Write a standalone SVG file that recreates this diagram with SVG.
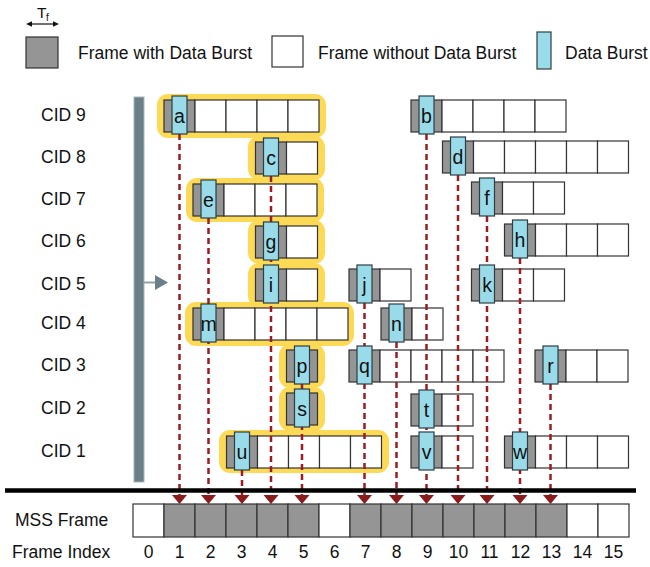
<svg xmlns="http://www.w3.org/2000/svg" width="650" height="567" viewBox="0 0 650 567">
  <defs>
    <style>
      .gray { fill: #959595; stroke: #333; stroke-width: 1.2; }
      .white { fill: #fff; stroke: #333; stroke-width: 1.2; }
      .burst { fill: #9ADBEA; stroke: #2E3E43; stroke-width: 1.2; }
      .hl { fill: #FCDA56; }
      .txt { font-family: "Liberation Sans", Arial, sans-serif; font-size: 17.5px; fill: #111; }
      .bl { font-family: "Liberation Sans", Arial, sans-serif; font-size: 19.5px; fill: #111; text-anchor: middle; }
      .idx { text-anchor: middle; }
      .conn { stroke: #9B1C22; stroke-width: 2.5; stroke-dasharray: 6 4; fill: none; marker-end: url(#head); }
    </style>
    <marker id="head" markerUnits="userSpaceOnUse" markerWidth="12" markerHeight="18" refX="0" refY="7.5" orient="auto" viewBox="0 0 12 15">
      <path d="M0,0 L9,7.5 L0,15 Z" fill="#8B1A1A"/>
    </marker>
  </defs>

  <!-- legend -->
  <g id="legend">
    <text class="txt" x="37" y="18" style="font-size:15.5px">T</text>
    <text class="txt" x="46" y="21" style="font-size:10px">f</text>
    <line x1="30" y1="24" x2="55" y2="24" stroke="#111" stroke-width="1.2"/>
    <polygon points="26,24 32,21.3 32,26.7" fill="#111"/>
    <polygon points="59,24 53,21.3 53,26.7" fill="#111"/>
    <rect class="gray" x="26" y="37" width="32" height="31"/>
    <text class="txt" x="78" y="59">Frame with Data Burst</text>
    <rect class="white" x="272" y="36" width="31" height="31"/>
    <text class="txt" x="318" y="59">Frame without Data Burst</text>
    <rect class="burst" x="537" y="32" width="14" height="37"/>
    <text class="txt" x="565" y="59">Data Burst</text>
  </g>

  <!-- connection labels -->
  <g id="cid-labels" class="txt">
    <text x="41" y="121">CID 9</text>
    <text x="41" y="163">CID 8</text>
    <text x="41" y="205">CID 7</text>
    <text x="41" y="247">CID 6</text>
    <text x="41" y="290">CID 5</text>
    <text x="41" y="329">CID 4</text>
    <text x="41" y="371">CID 3</text>
    <text x="41" y="414">CID 2</text>
    <text x="41" y="457">CID 1</text>
  </g>

  <!-- scheduler bar with pointer -->
  <g id="scheduler">
    <rect x="134" y="97" width="10" height="385" fill="#6A7F87" stroke="#A8B6BA" stroke-width="1"/>
    <line x1="144" y1="282.5" x2="156" y2="282.5" stroke="#8FA2A8" stroke-width="2"/>
    <polygon points="155,275 155,290 168,282.5" fill="#6A7F87"/>
  </g>

  <!-- highlighted scheduling window -->
  <g id="window" class="hl">
    <rect x="157" y="94" width="169" height="44" rx="11"/>
    <rect x="248" y="136" width="77" height="44" rx="11"/>
    <rect x="186" y="178" width="138" height="44" rx="11"/>
    <rect x="248" y="220" width="77" height="44" rx="11"/>
    <rect x="248" y="263" width="77" height="44" rx="11"/>
    <rect x="185" y="302" width="169" height="44" rx="11"/>
    <rect x="279" y="344" width="46" height="44" rx="11"/>
    <rect x="279" y="387" width="46" height="44" rx="11"/>
    <rect x="219" y="430" width="170" height="43" rx="11"/>
  </g>

  <!-- frame runs per connection -->
  <g id="frames">
    <g id="run-a"><rect class="gray" x="164" y="100" width="31" height="32"/><rect class="white" x="195" y="100" width="31" height="32"/><rect class="white" x="226" y="100" width="31" height="32"/><rect class="white" x="257" y="100" width="31" height="32"/><rect class="white" x="288" y="100" width="31" height="32"/></g>
    <g id="run-b"><rect class="gray" x="411" y="100" width="31" height="32"/><rect class="white" x="442" y="100" width="31" height="32"/><rect class="white" x="473" y="100" width="31" height="32"/><rect class="white" x="504" y="100" width="31" height="32"/><rect class="white" x="535" y="100" width="31" height="32"/></g>
    <g id="run-c"><rect class="gray" x="255.5" y="142" width="31" height="32"/><rect class="white" x="286.5" y="142" width="31" height="32"/></g>
    <g id="run-d"><rect class="gray" x="442.5" y="141" width="31" height="32"/><rect class="white" x="473.5" y="141" width="31" height="32"/><rect class="white" x="504.5" y="141" width="31" height="32"/><rect class="white" x="535.5" y="141" width="31" height="32"/><rect class="white" x="566.5" y="141" width="31" height="32"/><rect class="white" x="597.5" y="141" width="31" height="32"/></g>
    <g id="run-e"><rect class="gray" x="193" y="184" width="31" height="32"/><rect class="white" x="224" y="184" width="31" height="32"/><rect class="white" x="255" y="184" width="31" height="32"/><rect class="white" x="286" y="184" width="31" height="32"/></g>
    <g id="run-f"><rect class="gray" x="471.5" y="182" width="31" height="32"/><rect class="white" x="502.5" y="182" width="31" height="32"/><rect class="white" x="533.5" y="182" width="31" height="32"/></g>
    <g id="run-g"><rect class="gray" x="255.5" y="226" width="31" height="32"/><rect class="white" x="286.5" y="226" width="31" height="32"/></g>
    <g id="run-h"><rect class="gray" x="504.5" y="224" width="31" height="32"/><rect class="white" x="535.5" y="224" width="31" height="32"/><rect class="white" x="566.5" y="224" width="31" height="32"/><rect class="white" x="597.5" y="224" width="31" height="32"/></g>
    <g id="run-i"><rect class="gray" x="255.5" y="269" width="31" height="32"/><rect class="white" x="286.5" y="269" width="31" height="32"/></g>
    <g id="run-j"><rect class="gray" x="349" y="269" width="31" height="32"/><rect class="white" x="380" y="269" width="31" height="32"/></g>
    <g id="run-k"><rect class="gray" x="471.5" y="269" width="31" height="32"/><rect class="white" x="502.5" y="269" width="31" height="32"/><rect class="white" x="533.5" y="269" width="31" height="32"/></g>
    <g id="run-m"><rect class="gray" x="193" y="308" width="31" height="32"/><rect class="white" x="224" y="308" width="31" height="32"/><rect class="white" x="255" y="308" width="31" height="32"/><rect class="white" x="286" y="308" width="31" height="32"/><rect class="white" x="317" y="308" width="31" height="32"/></g>
    <g id="run-n"><rect class="gray" x="381" y="308" width="31" height="32"/><rect class="white" x="412" y="308" width="31" height="32"/></g>
    <g id="run-p"><rect class="gray" x="286.5" y="350" width="31" height="32"/></g>
    <g id="run-q"><rect class="gray" x="349" y="350" width="31" height="32"/><rect class="white" x="380" y="350" width="31" height="32"/><rect class="white" x="411" y="350" width="31" height="32"/><rect class="white" x="442" y="350" width="31" height="32"/><rect class="white" x="473" y="350" width="31" height="32"/></g>
    <g id="run-r"><rect class="gray" x="535" y="350" width="31" height="32"/><rect class="white" x="566" y="350" width="31" height="32"/><rect class="white" x="597" y="350" width="31" height="32"/></g>
    <g id="run-s"><rect class="gray" x="286.5" y="393" width="31" height="32"/></g>
    <g id="run-t"><rect class="gray" x="411" y="394" width="31" height="32"/><rect class="white" x="442" y="394" width="31" height="32"/></g>
    <g id="run-u"><rect class="gray" x="226.5" y="436" width="31" height="32"/><rect class="white" x="257.5" y="436" width="31" height="32"/><rect class="white" x="288.5" y="436" width="31" height="32"/><rect class="white" x="319.5" y="436" width="31" height="32"/><rect class="white" x="350.5" y="436" width="31" height="32"/></g>
    <g id="run-v"><rect class="gray" x="411" y="436" width="31" height="32"/><rect class="white" x="442" y="436" width="31" height="32"/></g>
    <g id="run-w"><rect class="gray" x="504.5" y="436" width="31" height="32"/><rect class="white" x="535.5" y="436" width="31" height="32"/><rect class="white" x="566.5" y="436" width="31" height="32"/><rect class="white" x="597.5" y="436" width="31" height="32"/></g>
  </g>

  <!-- burst-to-frame mapping -->
  <g id="connectors">
    <line class="conn" x1="179.5" y1="134" x2="179.5" y2="495"/>
    <line class="conn" x1="208.5" y1="218" x2="208.5" y2="495"/>
    <line class="conn" x1="242" y1="470" x2="242" y2="495"/>
    <line class="conn" x1="271" y1="176" x2="271" y2="495"/>
    <line class="conn" x1="302" y1="384" x2="302" y2="495"/>
    <line class="conn" x1="364.5" y1="303" x2="364.5" y2="495"/>
    <line class="conn" x1="396.5" y1="342" x2="396.5" y2="495"/>
    <line class="conn" x1="426.5" y1="134" x2="426.5" y2="495"/>
    <line class="conn" x1="458" y1="175" x2="458" y2="495"/>
    <line class="conn" x1="487" y1="216" x2="487" y2="495"/>
    <line class="conn" x1="520" y1="258" x2="520" y2="495"/>
    <line class="conn" x1="550.5" y1="384" x2="550.5" y2="495"/>
  </g>

  <!-- data bursts -->
  <g id="bursts">
    <g id="burst-a"><rect class="burst" x="172" y="96" width="15" height="38"/><text class="bl" x="179.5" y="123">a</text></g>
    <g id="burst-b"><rect class="burst" x="419" y="96" width="15" height="38"/><text class="bl" x="426.5" y="123">b</text></g>
    <g id="burst-c"><rect class="burst" x="263.5" y="138" width="15" height="38"/><text class="bl" x="271" y="165">c</text></g>
    <g id="burst-d"><rect class="burst" x="450.5" y="137" width="15" height="38"/><text class="bl" x="458" y="164">d</text></g>
    <g id="burst-e"><rect class="burst" x="201" y="180" width="15" height="38"/><text class="bl" x="208.5" y="207">e</text></g>
    <g id="burst-f"><rect class="burst" x="479.5" y="178" width="15" height="38"/><text class="bl" x="487" y="205">f</text></g>
    <g id="burst-g"><rect class="burst" x="263.5" y="222" width="15" height="38"/><text class="bl" x="271" y="249">g</text></g>
    <g id="burst-h"><rect class="burst" x="512.5" y="220" width="15" height="38"/><text class="bl" x="520" y="247">h</text></g>
    <g id="burst-i"><rect class="burst" x="263.5" y="265" width="15" height="38"/><text class="bl" x="271" y="292">i</text></g>
    <g id="burst-j"><rect class="burst" x="357" y="265" width="15" height="38"/><text class="bl" x="364.5" y="292">j</text></g>
    <g id="burst-k"><rect class="burst" x="479.5" y="265" width="15" height="38"/><text class="bl" x="487" y="292">k</text></g>
    <g id="burst-m"><rect class="burst" x="201" y="304" width="15" height="38"/><text class="bl" x="208.5" y="331">m</text></g>
    <g id="burst-n"><rect class="burst" x="389" y="304" width="15" height="38"/><text class="bl" x="396.5" y="331">n</text></g>
    <g id="burst-p"><rect class="burst" x="294.5" y="346" width="15" height="38"/><text class="bl" x="302" y="373">p</text></g>
    <g id="burst-q"><rect class="burst" x="357" y="346" width="15" height="38"/><text class="bl" x="364.5" y="373">q</text></g>
    <g id="burst-r"><rect class="burst" x="543" y="346" width="15" height="38"/><text class="bl" x="550.5" y="373">r</text></g>
    <g id="burst-s"><rect class="burst" x="294.5" y="389" width="15" height="38"/><text class="bl" x="302" y="416">s</text></g>
    <g id="burst-t"><rect class="burst" x="419" y="390" width="15" height="38"/><text class="bl" x="426.5" y="417">t</text></g>
    <g id="burst-u"><rect class="burst" x="234.5" y="432" width="15" height="38"/><text class="bl" x="242" y="459">u</text></g>
    <g id="burst-v"><rect class="burst" x="419" y="432" width="15" height="38"/><text class="bl" x="426.5" y="459">v</text></g>
    <g id="burst-w"><rect class="burst" x="512.5" y="432" width="15" height="38"/><text class="bl" x="520" y="459">w</text></g>
  </g>

  <!-- air interface line -->
  <line id="divider" x1="5" y1="490.5" x2="636" y2="490.5" stroke="#000" stroke-width="4.5"/>

  <!-- MSS frame sequence -->
  <g id="mss-frame">
    <text class="txt" x="15" y="526">MSS Frame</text>
    <rect class="white" x="133" y="504" width="31" height="33"/>
    <rect class="gray" x="164" y="504" width="31" height="33"/>
    <rect class="gray" x="195" y="504" width="31" height="33"/>
    <rect class="gray" x="226" y="504" width="31" height="33"/>
    <rect class="gray" x="257" y="504" width="31" height="33"/>
    <rect class="gray" x="288" y="504" width="31" height="33"/>
    <rect class="white" x="319" y="504" width="31" height="33"/>
    <rect class="gray" x="350" y="504" width="31" height="33"/>
    <rect class="gray" x="381" y="504" width="31" height="33"/>
    <rect class="gray" x="412" y="504" width="31" height="33"/>
    <rect class="gray" x="443" y="504" width="31" height="33"/>
    <rect class="gray" x="474" y="504" width="31" height="33"/>
    <rect class="gray" x="505" y="504" width="31" height="33"/>
    <rect class="gray" x="536" y="504" width="31" height="33"/>
    <rect class="white" x="567" y="504" width="31" height="33"/>
    <rect class="white" x="598" y="504" width="31" height="33"/>
  </g>

  <g id="frame-index" class="txt">
    <text x="12" y="558">Frame Index</text>
    <text class="idx" x="148.5" y="558">0</text>
    <text class="idx" x="179.5" y="558">1</text>
    <text class="idx" x="210.5" y="558">2</text>
    <text class="idx" x="241.5" y="558">3</text>
    <text class="idx" x="272.5" y="558">4</text>
    <text class="idx" x="303.5" y="558">5</text>
    <text class="idx" x="334.5" y="558">6</text>
    <text class="idx" x="365.5" y="558">7</text>
    <text class="idx" x="396.5" y="558">8</text>
    <text class="idx" x="427.5" y="558">9</text>
    <text class="idx" x="458.5" y="558">10</text>
    <text class="idx" x="489.5" y="558">11</text>
    <text class="idx" x="520.5" y="558">12</text>
    <text class="idx" x="551.5" y="558">13</text>
    <text class="idx" x="582.5" y="558">14</text>
    <text class="idx" x="613.5" y="558">15</text>
  </g>
</svg>
